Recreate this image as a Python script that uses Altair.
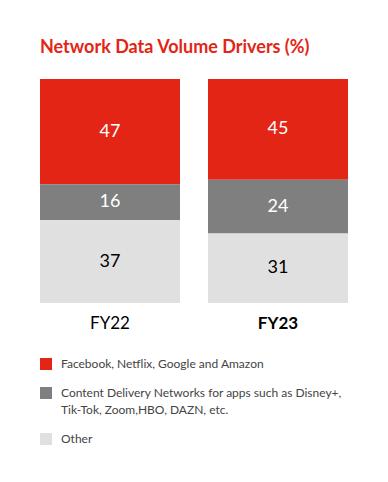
import altair as alt
import pandas as pd

years = ["FY22", "FY22", "FY22", "FY23", "FY23", "FY23"]
categories = [
    "Facebook, Netflix, Google and Amazon",
    "Content Delivery Networks for apps such as Disney+,|Tik-Tok, Zoom,HBO, DAZN, etc.",
    "Other",
]
series = categories * 2
values = [47, 16, 37, 45, 24, 31]
stack_rank = [2, 1, 0, 2, 1, 0]
colors = ["#e32515", "#7f7f7f", "#e0e0e0"]

df = pd.DataFrame({"year": years, "driver": series, "value": values, "rank": stack_rank})

base = alt.Chart(df).transform_stack(
    stack="value", groupby=["year"], sort=[alt.SortField("rank", order="ascending")], as_=["y0", "y1"]
).transform_calculate(mid="(datum.y0 + datum.y1) / 2")

x = alt.X(
    "year:N",
    title=None,
    scale=alt.Scale(paddingInner=0.1667, paddingOuter=0),
    axis=alt.Axis(
        labelAngle=0, domain=False, ticks=False, labelPadding=12, labelFontSize=17,
        labelColor="#000000",
        labelFontWeight=alt.expr("datum.value == 'FY23' ? 'bold' : 'normal'"),
    ),
)

bars = base.mark_bar(size=140).encode(
    x=x,
    y=alt.Y("y0:Q", scale=alt.Scale(domain=[0, 100]), axis=None),
    y2="y1:Q",
    color=alt.Color(
        "driver:N",
        scale=alt.Scale(domain=categories, range=colors),
        legend=alt.Legend(
            title=None, orient="none", legendX=0, legendY=279, direction="vertical",
            symbolType="square", symbolSize=144, symbolStrokeWidth=0, symbolOpacity=1,
            labelFontSize=12, labelColor="#444444", labelLimit=400,
            labelExpr="split(datum.label, '|')", rowPadding=17, padding=0, labelOffset=9,
        ),
    ),
)

text = base.mark_text(fontSize=18, baseline="middle").encode(
    x=alt.X("year:N"),
    y=alt.Y("mid:Q"),
    text=alt.Text("value:Q"),
    color=alt.condition(alt.datum.rank == 0, alt.value("#000000"), alt.value("#ffffff")),
)

chart = (
    alt.layer(bars, text)
    .properties(
        width=308,
        height=224,
        autosize=alt.AutoSizeParams(type="none"),
        padding={"left": 32, "top": 71, "right": 32, "bottom": 171},
        title=alt.Title(
            "Network Data Volume Drivers (%)", anchor="start", fontSize=18, fontWeight="bold",
            color="#e32515", offset=22,
        ),
    )
    .configure(font="Lato", background="#ffffff", style={"guide-label": {"lineHeight": 17}})
    .configure_view(stroke=None)
)

chart.save("out.html", embed_options={"renderer": "svg", "actions": False})
